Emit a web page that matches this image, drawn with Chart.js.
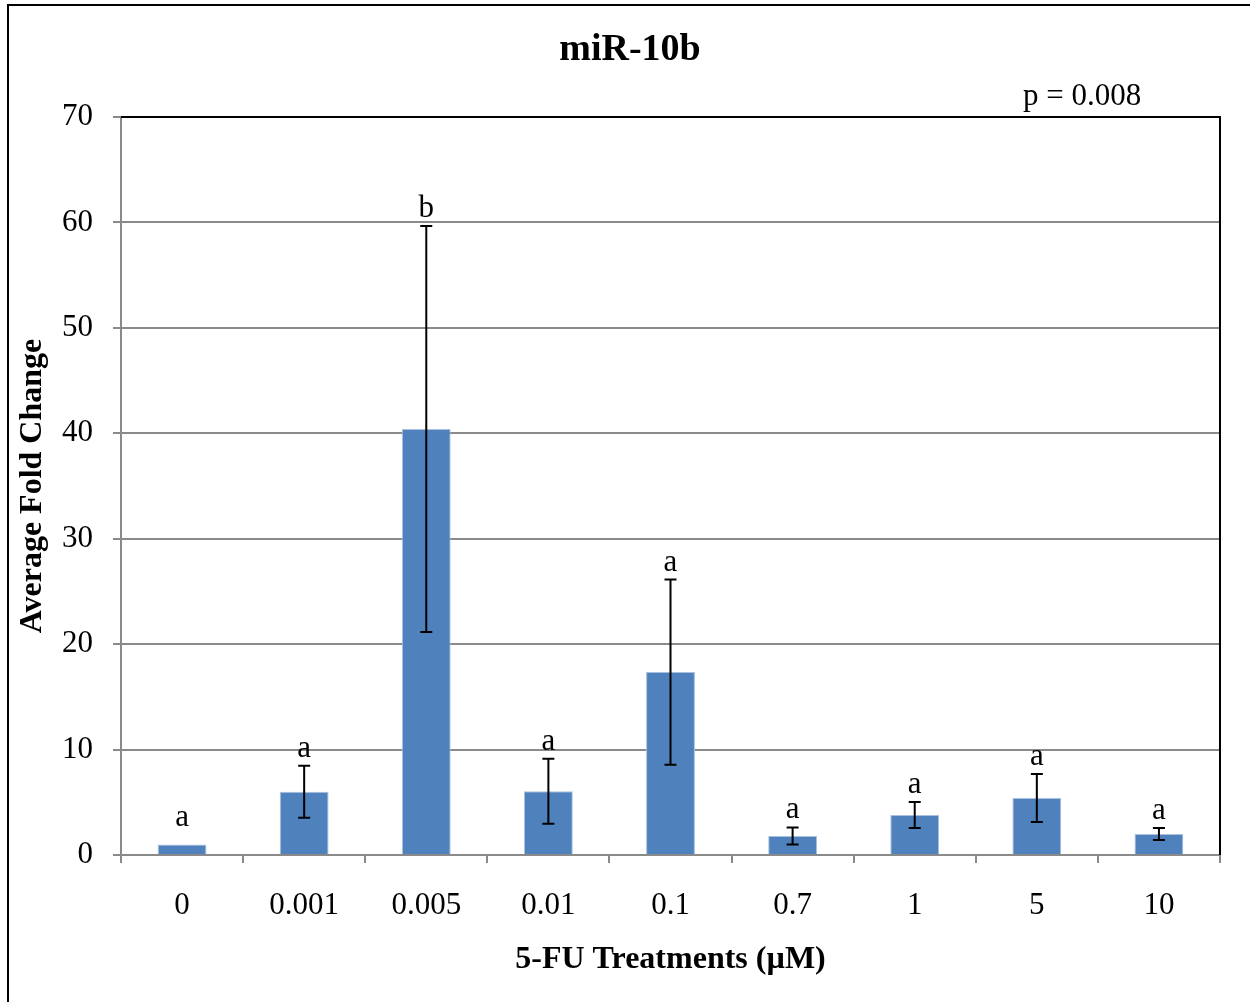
<!DOCTYPE html>
<html>
<head>
<meta charset="utf-8">
<script src="https://cdn.jsdelivr.net/npm/chart.js@4.4.1/dist/chart.umd.min.js"></script>
<style>
  html, body { margin: 0; padding: 0; background: #fff; }
  #wrap { position: relative; width: 1250px; height: 1002px; }
  #frame { position: absolute; left: 7px; top: 4px; right: 0; bottom: 0;
           border-left: 2px solid #000; border-top: 2px solid #000; pointer-events: none; }
  canvas { position: absolute; left: 0; top: 0; }
</style>
</head>
<body>
<div id="wrap">
  <canvas id="myChart" width="1250" height="1002"></canvas>
  <div id="frame"></div>
</div>
<script>
const doses = ['0', '0.001', '0.005', '0.01', '0.1', '0.7', '1', '5', '10']
const foldChange = [1.0, 6.0, 40.4, 6.05, 17.35, 1.8, 3.8, 5.4, 2.0]
const stdErr = [0, 2.46, 19.25, 3.08, 8.78, 0.81, 1.23, 2.28, 0.57]
const groups = ['a', 'a', 'b', 'a', 'a', 'a', 'a', 'a', 'a']
const yTicks = [0, 10, 20, 30, 40, 50, 60, 70]

const serif = '"Liberation Serif", "Times New Roman", serif'
const gridGray = '#8a8a8a'

// error bars, significance letters, frame lines and the text around the plot
const extras = {
    id: 'extras',
    afterDatasetsDraw(chart) {
        const c = chart.ctx
        const y = chart.scales.y
        const area = chart.chartArea
        const bars = chart.getDatasetMeta(0).data

        c.save()
        // black top and right edges of the plot box
        c.strokeStyle = '#000'
        c.lineWidth = 2
        c.beginPath()
        c.moveTo(area.left, area.top)
        c.lineTo(area.right, area.top)
        c.lineTo(area.right, area.bottom)
        c.stroke()

        bars.forEach((bar, i) => {
            const hi = y.getPixelForValue(foldChange[i] + stdErr[i])
            const lo = y.getPixelForValue(foldChange[i] - stdErr[i])
            if (stdErr[i] > 0) {
                c.beginPath()
                c.moveTo(bar.x, hi)
                c.lineTo(bar.x, lo)
                c.moveTo(bar.x - 6, hi)
                c.lineTo(bar.x + 6, hi)
                c.moveTo(bar.x - 6, lo)
                c.lineTo(bar.x + 6, lo)
                c.stroke()
            }
            c.fillStyle = '#000'
            c.font = '31px ' + serif
            c.textAlign = 'center'
            c.textBaseline = 'alphabetic'
            c.fillText(groups[i], bar.x, hi - (stdErr[i] > 0 ? 9 : 18))
        })

        c.fillStyle = '#000'
        c.textAlign = 'center'
        c.font = 'bold 38px ' + serif
        c.fillText('miR-10b', 630, 60)

        c.textAlign = 'left'
        c.font = '31px ' + serif
        c.fillText('p = 0.008', 1023, 105)

        c.textAlign = 'center'
        c.font = 'bold 32px ' + serif
        c.fillText('5-FU Treatments (µM)', (area.left + area.right) / 2, 968)

        c.translate(33, (area.top + area.bottom) / 2)
        c.rotate(-Math.PI / 2)
        c.textBaseline = 'middle'
        c.fillText('Average Fold Change', 0, 0)
        c.restore()
    }
}

const ctx = document.getElementById('myChart')
const myChart = new Chart(ctx, {
    type: 'bar',
    data: {
        labels: doses,
        datasets: [{
            label: 'miR-10b',
            data: foldChange,
            backgroundColor: '#4f81bd',
            borderColor: '#a9c1de',
            borderWidth: 1,
            barPercentage: 0.4,
            categoryPercentage: 1.0
        }]
    },
    options: {
        responsive: false,
        animation: false,
        layout: { padding: { left: 0, top: 117, right: 30, bottom: 0 } },
        plugins: {
            legend: { display: false },
            title: { display: false },
            tooltip: { enabled: false }
        },
        scales: {
            x: {
                offset: true,
                grid: { offset: true, drawOnChartArea: false, drawTicks: true, tickLength: 8, color: gridGray, lineWidth: 2 },
                border: { color: gridGray, width: 2 },
                ticks: { color: '#000', font: { family: serif, size: 31 }, padding: 24, maxRotation: 0 },
                afterFit: (scale) => { scale.height = 147 }
            },
            y: {
                min: 0,
                max: 70,
                afterBuildTicks: (scale) => { scale.ticks = yTicks.map(v => ({ value: v })) },
                grid: { color: gridGray, lineWidth: 2, tickLength: 8 },
                border: { color: gridGray, width: 2 },
                ticks: { color: '#000', font: { family: serif, size: 31 }, padding: 20 },
                afterFit: (scale) => { scale.width = 121 }
            }
        }
    },
    plugins: [extras]
})
</script>
</body>
</html>
